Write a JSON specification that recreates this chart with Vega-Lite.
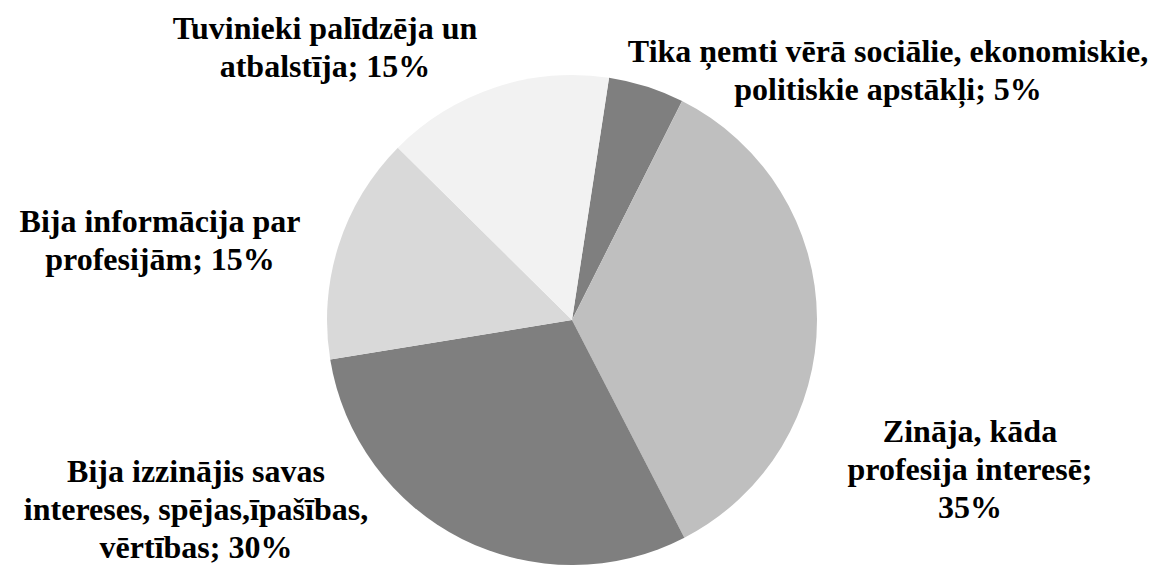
{
  "$schema": "https://vega.github.io/schema/vega-lite/v6.json",
  "width": 1144,
  "height": 502,
  "autosize": {"type": "none"},
  "padding": {"top": 69, "left": 0, "right": 6, "bottom": 0},
  "background": "white",
  "config": {"view": {"stroke": null}},
  "data": {
    "values": [
      {"n": 1, "label": "Tika ņemti vērā sociālie, ekonomiskie,\npolitiskie apstākļi; 5%", "value": 5},
      {"n": 2, "label": "Zināja, kāda\nprofesija interesē;\n35%", "value": 35},
      {"n": 3, "label": "Bija izzinājis savas\nintereses, spējas,īpašības,\nvērtības; 30%", "value": 30},
      {"n": 4, "label": "Bija informācija par\nprofesijām; 15%", "value": 15},
      {"n": 5, "label": "Tuvinieki palīdzēja un\natbalstīja; 15%", "value": 15}
    ]
  },
  "layer": [
    {
      "mark": {"type": "arc", "outerRadius": 245},
      "encoding": {
        "theta": {"field": "value", "type": "quantitative", "stack": true, "scale": {"range": [0.1518, 6.435]}},
        "order": {"field": "n", "type": "quantitative"},
        "color": {
          "field": "n", "type": "nominal",
          "scale": {"domain": [1, 2, 3, 4, 5], "range": ["#7f7f7f", "#bfbfbf", "#7f7f7f", "#d9d9d9", "#f2f2f2"]},
          "legend": null
        }
      }
    },
    {
      "transform": [{"filter": "datum.n == 1"}],
      "mark": {"type": "text", "dx": 316, "dy": -258, "align": "center", "baseline": "alphabetic", "lineBreak": "\n", "lineHeight": 38, "font": "Liberation Serif", "fontWeight": "bold", "fontSize": 32, "color": "black"},
      "encoding": {"text": {"field": "label"}}
    },
    {
      "transform": [{"filter": "datum.n == 2"}],
      "mark": {"type": "text", "dx": 398, "dy": 122, "align": "center", "baseline": "alphabetic", "lineBreak": "\n", "lineHeight": 38, "font": "Liberation Serif", "fontWeight": "bold", "fontSize": 32, "color": "black"},
      "encoding": {"text": {"field": "label"}}
    },
    {
      "transform": [{"filter": "datum.n == 3"}],
      "mark": {"type": "text", "dx": -376, "dy": 162, "align": "center", "baseline": "alphabetic", "lineBreak": "\n", "lineHeight": 38, "font": "Liberation Serif", "fontWeight": "bold", "fontSize": 32, "color": "black"},
      "encoding": {"text": {"field": "label"}}
    },
    {
      "transform": [{"filter": "datum.n == 4"}],
      "mark": {"type": "text", "dx": -412, "dy": -88, "align": "center", "baseline": "alphabetic", "lineBreak": "\n", "lineHeight": 38, "font": "Liberation Serif", "fontWeight": "bold", "fontSize": 32, "color": "black"},
      "encoding": {"text": {"field": "label"}}
    },
    {
      "transform": [{"filter": "datum.n == 5"}],
      "mark": {"type": "text", "dx": -247, "dy": -281, "align": "center", "baseline": "alphabetic", "lineBreak": "\n", "lineHeight": 38, "font": "Liberation Serif", "fontWeight": "bold", "fontSize": 32, "color": "black"},
      "encoding": {"text": {"field": "label"}}
    }
  ]
}
